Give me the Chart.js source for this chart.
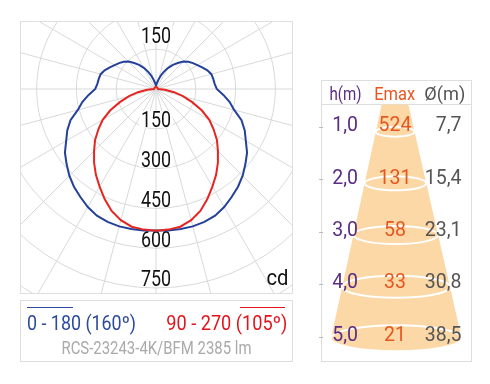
<!DOCTYPE html>
<html><head><meta charset="utf-8">
<script src="https://cdn.jsdelivr.net/npm/chart.js@4"></script>
<style>
body{margin:0;background:#fff;width:490px;height:384px;position:relative;overflow:hidden;font-family:Roboto,"Noto Sans",sans-serif;}
.abs{position:absolute;white-space:nowrap;line-height:1;}
#frame{position:absolute;left:20px;top:21px;width:273px;height:273px;box-sizing:border-box;border:1px solid #dedede;overflow:hidden;}
#wrap{position:absolute;left:-125px;top:-193px;width:520px;height:520px;}
#legbox{position:absolute;left:20px;top:300px;width:273px;height:62px;box-sizing:border-box;border:1px solid #dedede;}
#tbox{position:absolute;left:321px;top:80px;width:151px;height:282px;box-sizing:border-box;border:1px solid #dedede;}
</style></head>
<body>
<div id="frame"><div id="wrap"><canvas id="c" width="520" height="520"></canvas></div></div>
<div id="legbox"></div>
<div class="abs" style="left:27px;top:306.5px;width:46px;height:1.6px;background:#2a4a9c"></div>
<div class="abs" style="left:240px;top:306.5px;width:45px;height:1.6px;background:#e3141b"></div>
<div id="tbox"></div>
<div class="abs" style="left:321px;top:104px;width:151px;height:1px;background:#dedede"></div>
<svg id="cone" width="490" height="384" style="position:absolute;left:0;top:0"></svg>
<div id="texts"></div>

<script>
// ---- data ----
const angleDeg = [0,5,10,15,20,25,30,35,40,45,50,55,60,65,70,75,80,85,90,95,100,105,110,115,120,125,130,135,140,145,150,155,160,165,170,175,180];
const plane0_180 = [533,535,536,536,533,527,514,497,481,462,440,419,391,369,343,305,282,255,229,222,219,216,206,192,180,170,160,146,128,111,92,73,55,37,25,17,13];
const plane90_270 = [534,532,527,512,489,458,425,395,363,330,300,265,232,190,145,105,69,34,8,7,7,7,7,7,7,7,7,7,7,7,7,7,7,7,7,7,7];
const ringTicksDown = [150,300,450,600,750];
const ringTicksUp = [150];
const unitLabel = 'cd';
const legendBlue = '0 - 180 (160º)';
const legendRed = '90 - 270 (105º)';
const lampName = 'RCS-23243-4K/BFM 2385 lm';
const headers = ['h(m)','Emax','Ø(m)'];
const heights = ['1,0','2,0','3,0','4,0','5,0'];
const emax = ['524','131','58','33','21'];
const diam = ['7,7','15,4','23,1','30,8','38,5'];

// ---- polar chart ----
function fullCircle(half){ // index 0 = straight down, clockwise, 5° steps
  const out=[];
  for(let i=0;i<72;i++){ out.push(i<=36 ? half[i] : half[72-i]); }
  return out;
}
const labels=[]; for(let i=0;i<72;i++) labels.push(String(i*5));

const FONT='Roboto,"Noto Sans",sans-serif';
const ringLabelPlugin={
  id:'ringLabels',
  beforeDatasetsDraw(chart){
    const s=chart.scales.r, c=chart.ctx;
    c.save();
    c.font='22px '+FONT;
    const m=c.measureText('300');
    const sx=29/(m.actualBoundingBoxLeft+m.actualBoundingBoxRight);
    c.textAlign='center'; c.textBaseline='alphabetic';
    const draw=(t,by)=>{
      const w=c.measureText(t).width*sx;
      c.fillStyle='#fff'; c.fillRect(s.xCenter-w/2-1.5, by-16.5, w+3, 16.5);
      c.save(); c.translate(s.xCenter,by); c.scale(sx,1); c.fillStyle='#111'; c.fillText(t,0,0); c.restore();
    };
    ringTicksDown.forEach(v=>draw(String(v), s.yCenter+s.getDistanceFromCenterForValue(v)-1.5));
    ringTicksUp.forEach(v=>draw(String(v), s.yCenter-s.getDistanceFromCenterForValue(v)-6));
    c.restore();
  }
};

new Chart(document.getElementById('c'),{
  type:'radar',
  data:{labels:labels,datasets:[
    {data:fullCircle(plane90_270),borderColor:'#e52521',borderWidth:2,pointRadius:0,fill:false},
    {data:fullCircle(plane0_180),borderColor:'#23409a',borderWidth:2,pointRadius:0,fill:false}
  ]},
  options:{
    responsive:false,animation:false,devicePixelRatio:1,
    layout:{padding:0},
    plugins:{legend:{display:false},tooltip:{enabled:false}},
    elements:{line:{tension:0}},
    scales:{r:{
      min:0,max:980,startAngle:180,
      ticks:{display:false,stepSize:150},
      pointLabels:{display:false},
      grid:{circular:true,color:'#d9d9d9',lineWidth:1},
      angleLines:{display:true,color:'#d9d9d9',lineWidth:(ctx)=>ctx.index%3===0?1:0}
    }}
  },
  plugins:[ringLabelPlugin]
});

// ---- text placement helper ----
const host=document.getElementById('texts');
function place(text,x,anchor,baseline,fs,color,target){
  const d=document.createElement('div');
  d.className='abs'; d.textContent=text;
  d.style.fontSize=fs+'px'; d.style.color=color;
  d.style.left='0px'; d.style.top=(baseline-0.842*fs)+'px';
  host.appendChild(d);
  const w=d.getBoundingClientRect().width;
  const left = anchor==='left'?x:(anchor==='right'?x-w:x-w/2);
  d.style.left=left+'px';
  if(target){
    d.style.transformOrigin = anchor==='left'?'0 0':(anchor==='right'?'100% 0':'50% 0');
    d.style.transform='scaleX('+(target/w)+')';
  }
}
place(unitLabel,288,'right',285,22.5,'#111',22);
place(legendBlue,26.5,'left',330,20,'#2a4a9c',109);
place(legendRed,287,'right',330,20,'#e3141b',121);
place(lampName,156.3,'center',354.3,17.5,'#aaaaaa',190);

// ---- cone (decoration) ----
const svg=document.getElementById('cone');
const NS='http://www.w3.org/2000/svg';
function el(n,a){const e=document.createElementNS(NS,n);for(const k in a)e.setAttribute(k,a[k]);svg.appendChild(e);return e;}
const topY=104.5, botY=338.3, topL=381.7, topR=408.3, botL=331, botR=461.7;
el('path',{d:`M${topL},${topY} L${topR},${topY} L${botR},${botY} A${(botR-botL)/2},13 0 0 1 ${botL},${botY} Z`,fill:'#fbd8a5'});
const ringY=[131.7,183.3,235,286.7,338.3], ringRy=[5,7,9,11,13];
ringY.forEach((y,i)=>{
  const t=(y-topY)/(botY-topY);
  const l=topL+(botL-topL)*t, r=topR+(botR-topR)*t;
  el('ellipse',{cx:(l+r)/2,cy:y,rx:(r-l)/2,ry:ringRy[i],fill:'none',stroke:'#fff','stroke-width':2});
});

// ---- table text ----
place(headers[0],345.5,'center',101,17.5,'#5a2d82',32);
place(headers[1],395,'center',101,17.5,'#e8561f',41);
place(headers[2],445,'center',101,17.5,'#555',41);
heights.forEach((h,i)=>{
  const b=131.7+52.4*i;
  place(h,358,'right',b,19.5,'#5a2d82');
  place(emax[i],395,'center',b,19.5,'#e8561f');
  place(diam[i],461.5,'right',b,19.5,'#555');
  const t=document.createElement('div'); t.className='abs';
  t.setAttribute('style',`left:319px;top:${126.5+52.5*i}px;width:4px;height:1px;background:#bbb`);
  host.appendChild(t);
});
</script>
</body></html>
